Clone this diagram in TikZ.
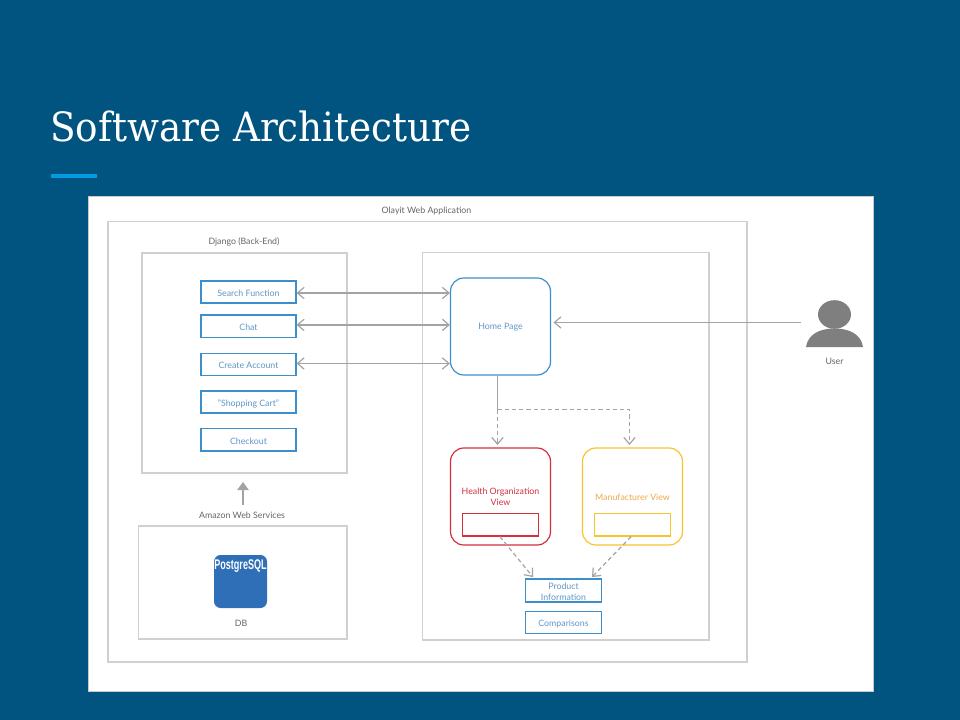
\documentclass[tikz,border=0pt]{standalone}
\usepackage{fontspec}
\usepackage{graphicx}
\setmainfont{Lato}
\newfontfamily\titlefont{DejaVu Serif}
\newfontfamily\pgfont{Liberation Sans}
\usetikzlibrary{arrows.meta}
\definecolor{bgblue}{HTML}{01547F}
\definecolor{accent}{HTML}{039BE5}
\definecolor{framegray}{HTML}{D0D0D0}
\definecolor{linegray}{HTML}{A3A3A3}
\definecolor{txtgray}{HTML}{666666}
\definecolor{boxblue}{HTML}{3D8FCB}
\definecolor{txtblue}{HTML}{5F97C9}
\definecolor{redc}{HTML}{D32F3F}
\definecolor{yelc}{HTML}{F5C52E}
\definecolor{orgtxt}{HTML}{EFA94A}
\definecolor{pgblue}{HTML}{2F6FB7}
\definecolor{usergray}{HTML}{7F7F7F}
\tikzset{
  x=0.75pt,y=-0.75pt,
  lbl/.style={font=\fontsize{6.6pt}{8pt}\selectfont,text=txtgray,inner sep=0pt,align=center},
  frame/.style={draw=framegray,line width=0.9pt,fill=white,inner sep=0pt},
  bluebox/.style={draw=boxblue,line width=0.8pt,fill=white,inner sep=0pt,font=\fontsize{6.6pt}{8pt}\selectfont,text=txtblue,align=center,text height=6.6pt,text depth=0.2pt},
  plainbox/.style={line width=0.8pt,inner sep=0pt},
  roundbox/.style={line width=0.9pt,fill=white,rounded corners=10pt,inner sep=0pt},
  boxtext/.style={font=\fontsize{6.6pt}{8pt}\selectfont,align=center,inner sep=0pt},
  conn/.style={draw=linegray,line width=0.9pt},
  opentip/.style={-{Straight Barb[length=5pt,width=8.5pt,line width=0.9pt]}},
  bothtip/.style={{Straight Barb[length=5pt,width=8.5pt,line width=0.9pt]}-{Straight Barb[length=5pt,width=8.5pt,line width=0.9pt]}},
  dash line/.style={dash pattern=on 3.2pt off 2.2pt},
}
\newcommand{\bx}[6]{\node[#1,minimum width=#4*0.75pt-#3*0.75pt,minimum height=#6*0.75pt-#5*0.75pt] (#2) at ({(#3+#4)/2},{(#5+#6)/2})}
\begin{document}
\begin{tikzpicture}
\useasboundingbox (0,0) rectangle (960,720);
\fill[bgblue] (0,0) rectangle (960,720);
\node[anchor=base west,inner sep=0pt,text=white,font=\fontsize{28pt}{32pt}\titlefont] (title) at (50,141.5) {\scalebox{1}[1.08]{Software Architecture}};
\fill[accent] (51,174.5) rectangle (97,178);
\bx{draw=linegray!60,line width=0.4pt,fill=white,inner sep=0pt}{sheet}{88.5}{873.5}{196}{691}{};
\bx{frame}{webapp}{108}{747}{221.5}{662}{};
\bx{frame}{django}{142}{347}{253}{473}{};
\bx{frame}{front}{422.5}{709}{252.5}{640}{};
\bx{frame}{dbbox}{138.5}{347}{526}{639}{};
\node[lbl] (webtitle) at (426.5,211) {Olayit Web Application};
\node[lbl] (djtitle) at (244,242) {Django (Back-End)};
\node[lbl] (aws) at (242,515.5) {Amazon Web Services};
\bx{bluebox}{search}{201}{296}{281}{303}{Search Function};
\bx{bluebox}{chat}{201}{296}{315}{337.5}{Chat};
\bx{bluebox}{create}{201}{296}{353.5}{375.5}{Create Account};
\bx{bluebox}{cart}{201}{296}{391}{413}{"Shopping Cart"};
\bx{bluebox}{checkout}{201}{296}{428.5}{451}{Checkout};
\bx{roundbox,draw=boxblue}{home}{450.5}{550.5}{278}{375}{};
\node[boxtext,text=txtblue] (homelabel) at (500.5,327.5) {Home Page};
\bx{roundbox,draw=redc}{health}{450.5}{550.5}{448}{545}{};
\node[boxtext,text=redc] (healthlabel) at (500.5,496.5) {Health Organization\\View};
\bx{roundbox,draw=yelc}{manu}{582.5}{682.5}{448}{545}{};
\node[boxtext,text=orgtxt] (manulabel) at (632.5,497) {Manufacturer View};
\bx{plainbox,draw=redc}{healthin}{462.5}{538.5}{513.5}{536}{};
\bx{plainbox,draw=yelc}{manuin}{594.5}{670.5}{513.5}{536}{};
\bx{plainbox,draw=boxblue,fill=white}{product}{525.5}{601.5}{579}{602}{};
\node[boxtext,text=txtblue] (productlabel) at (563.5,591.5) {Product\\Information};
\bx{bluebox}{compare}{525.5}{601.5}{611.5}{633.5}{Comparisons};
\node[fill=pgblue,rounded corners=5pt,minimum width=39.75pt,minimum height=39.75pt,inner sep=0pt] (pg) at (240.5,581.5) {};
\node[inner sep=0pt,text=white,font=\fontsize{10.5pt}{11pt}\pgfont\bfseries] (pglabel) at (240.5,566.5) {\scalebox{.645}[1]{PostgreSQL}};
\node[lbl] (db) at (241,623.5) {DB};
\fill[usergray] (834.5,314.5) ellipse [x radius=16.5,y radius=14.3];
\fill[usergray] (806,347) .. controls (808,334) and (820,328.5) .. (834.5,328.5) .. controls (849,328.5) and (861,334) .. (863,347) -- cycle;
\coordinate (userport) at (801,322.5);
\coordinate (homeport) at (553.5,322.5);
\node[lbl] (userlabel) at (834.5,361.5) {User};
\draw[conn,bothtip] ([yshift=-0.75pt]search.east) -- ([yshift=-0.75pt]search.east -| home.west);
\draw[conn,bothtip] ([yshift=1pt]chat.east) -- ([yshift=1pt]chat.east -| home.west);
\draw[conn,bothtip] ([yshift=0.75pt]create.east) -- ([yshift=0.75pt]create.east -| home.west);
\draw[conn,opentip] (userport) -- (homeport);
\coordinate (awsup) at (243,505);
\coordinate (awstop) at (243,482);
\draw[conn,-{Triangle[length=6pt,width=8.5pt]}] (awsup) -- (awstop);
\coordinate (hb) at (497.5,375.5);
\coordinate (hj) at (497.5,409.5);
\coordinate (mj) at (629.5,409.5);
\coordinate (he) at (497.5,445);
\coordinate (me) at (629.5,445);
\coordinate (pl) at (533,577);
\coordinate (pr) at (592,577);
\draw[conn] (hb) -- (hj);
\draw[conn,dash line,opentip] (hj) -- (he);
\draw[conn,dash line,opentip] (hj) -- (mj) -- (me);
\draw[conn,dash line,opentip] ([xshift=-0.5pt]healthin.south) -- (pl);
\draw[conn,dash line,opentip] ([xshift=-1pt]manuin.south) -- (pr);
\end{tikzpicture}
\end{document}
